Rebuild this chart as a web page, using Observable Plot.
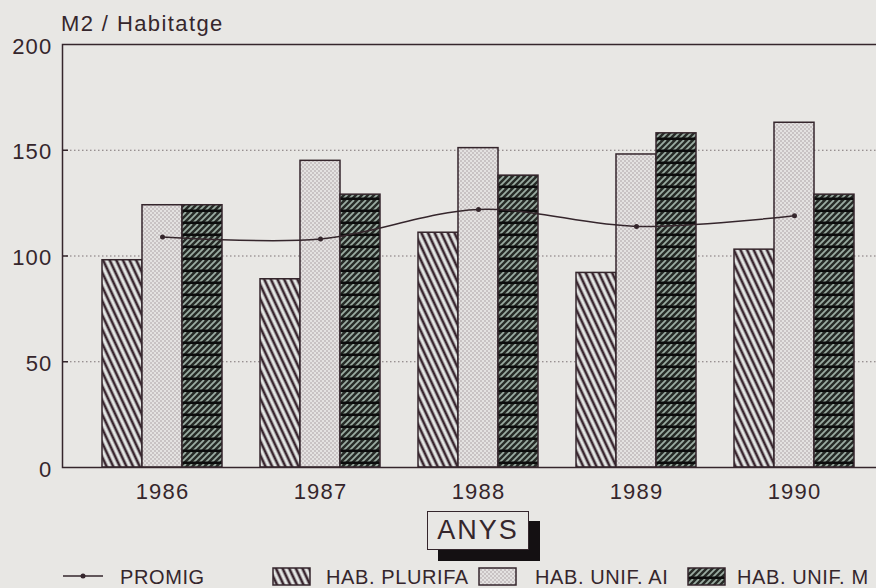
<!DOCTYPE html>
<html><head><meta charset="utf-8">
<script src="https://cdn.jsdelivr.net/npm/d3@7"></script>
<script src="https://cdn.jsdelivr.net/npm/@observablehq/plot@0.6"></script>
<style>
html,body{margin:0;padding:0;background:#e8e7e4;width:876px;height:588px;overflow:hidden;font-family:"Liberation Sans",Arial,sans-serif;color:#35262c;}
#title{height:32px;box-sizing:border-box;padding-top:13px;padding-left:61px;font-size:22px;line-height:22px;letter-spacing:1.4px;white-space:nowrap;}
#chart svg{display:block;}
#bottom{position:relative;height:83px;}
#shadow{position:absolute;left:438px;top:16px;width:102px;height:40px;background:#141012;}
#anys{position:absolute;left:427px;top:6px;width:102px;height:39px;box-sizing:border-box;border:1.5px solid #35262c;background:#e8e7e4;font-size:27px;line-height:37px;letter-spacing:2px;text-align:center;}
.lg{position:absolute;white-space:nowrap;font-size:20px;line-height:20px;letter-spacing:0.6px;}
.sw{position:absolute;}
</style></head><body>
<svg width="0" height="0" style="position:absolute">
  <defs>
    <pattern id="pPlurifa" patternUnits="userSpaceOnUse" width="6" height="6" patternTransform="rotate(-25)">
      <rect width="6" height="6" fill="#e4e7e5"/>
      <line x1="3" y1="-1" x2="3" y2="7" stroke="#3a2730" stroke-width="2.7"/>
    </pattern>
    <pattern id="pAi" patternUnits="userSpaceOnUse" width="4" height="4">
      <rect width="4" height="4" fill="#e4e2e1"/>
      <circle cx="1" cy="1" r="0.7" fill="#9a8c92"/>
      <circle cx="3" cy="3" r="0.7" fill="#9a8c92"/>
    </pattern>
    <pattern id="pM" patternUnits="userSpaceOnUse" width="6" height="12">
      <rect width="6" height="12" fill="#262a26"/>
      <path d="M-12,12L0,0M-6,12L6,0M0,12L12,0M6,12L18,0" stroke="#9aaca2" stroke-width="1.8"/>
      <rect y="9.5" width="6" height="2.5" fill="#0c0c0c"/>
    </pattern>
  </defs>
</svg>
<div id="title">M2 / Habitatge</div>
<div id="chart"></div>
<div id="bottom">
  <div id="shadow"></div><div id="anys">ANYS</div>
</div>
<script>
const years = ["1986", "1987", "1988", "1989", "1990"];
const plurifa = [98, 89, 111, 92, 103];
const unifAi = [124, 145, 151, 148, 163];
const unifM = [124, 129, 138, 158, 129];
const promig = [109, 108, 122, 114, 119];
const yTicks = [0, 50, 100, 150, 200];
const gridTicks = [50, 100, 150];
const seriesNames = ["PROMIG", "HAB. PLURIFA", "HAB. UNIF. AI", "HAB. UNIF. M"];

const ink = "#35262c";
const rows = years.map((y, i) => ({year: y, plurifa: plurifa[i], ai: unifAi[i], m: unifM[i], promig: promig[i]}));

const chart = Plot.plot({
  width: 876, height: 473,
  marginLeft: 62, marginRight: -18, marginTop: 12, marginBottom: 38,
  style: {background: "transparent", color: ink, fontFamily: "Liberation Sans, Arial, sans-serif", fontSize: "22px", letterSpacing: "1.2px"},
  x: {type: "band", domain: years, paddingInner: 0.24, paddingOuter: 0.25, label: null},
  y: {domain: [0, 200], label: null},
  marks: [
    Plot.ruleY(gridTicks, {stroke: ink, strokeOpacity: 0.6, strokeDasharray: "1.5 2.5", strokeWidth: 1}),
    Plot.ruleY(gridTicks, {stroke: ink, strokeWidth: 1.5, strokeDasharray: "6 3000"}),
    Plot.barY(rows, {x: "year", y: "plurifa", fill: "url(#pPlurifa)", stroke: ink, strokeWidth: 1.5, insetRight: 80}),
    Plot.barY(rows, {x: "year", y: "ai", fill: "url(#pAi)", stroke: ink, strokeWidth: 1.5, insetLeft: 40, insetRight: 40}),
    Plot.barY(rows, {x: "year", y: "m", fill: "url(#pM)", stroke: ink, strokeWidth: 1.5, insetLeft: 80}),
    Plot.frame({stroke: ink, strokeWidth: 1.5}),
    Plot.line(rows, {x: "year", y: "promig", curve: "catmull-rom", stroke: ink, strokeWidth: 1.5}),
    Plot.dot(rows, {x: "year", y: "promig", r: 2.5, fill: ink}),
    Plot.axisX({tickSize: 0, tickPadding: 16, fontSize: 22, label: null}),
    Plot.axisY({ticks: yTicks, tickSize: 0, tickPadding: 10, fontSize: 22, label: null, dy: 2})
  ]
});
document.getElementById("chart").appendChild(chart);

// legend
const bottom = document.getElementById("bottom");
const legendPos = [
  {sym: 63, text: 120, kind: "line"},
  {sym: 272, text: 326, kind: "pPlurifa"},
  {sym: 478, text: 535, kind: "pAi"},
  {sym: 687, text: 737, kind: "pM"}
];
const NS = "http://www.w3.org/2000/svg";
seriesNames.forEach((name, i) => {
  const p = legendPos[i];
  const s = document.createElementNS(NS, "svg");
  s.setAttribute("class", "sw");
  if (p.kind === "line") {
    s.setAttribute("width", 40); s.setAttribute("height", 10);
    s.style.left = p.sym + "px"; s.style.top = "66px";
    s.innerHTML = `<line x1="0" y1="5" x2="40" y2="5" stroke="${ink}" stroke-width="1.5"/><circle cx="20" cy="5" r="2.5" fill="${ink}"/>`;
  } else {
    s.setAttribute("width", 40); s.setAttribute("height", 20);
    s.style.left = p.sym + "px"; s.style.top = "62px";
    s.innerHTML = `<rect x="1" y="1" width="37" height="17" fill="url(#${p.kind})" stroke="${ink}" stroke-width="1.5"/>`;
  }
  bottom.appendChild(s);
  const t = document.createElement("div");
  t.className = "lg";
  t.style.left = p.text + "px"; t.style.top = "62px";
  t.textContent = name;
  bottom.appendChild(t);
});
</script>
</body></html>
